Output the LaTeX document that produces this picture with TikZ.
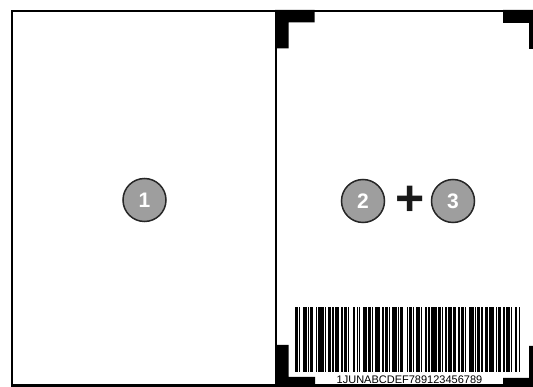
\documentclass[tikz,border=0pt]{standalone}
\usepackage{fontspec}
\setmainfont{Liberation Sans}
\begin{document}
\begin{tikzpicture}[x=1pt,y=-1pt,
  frameline/.style={line width=2.5pt,draw=black},
  cropmark/.style={fill=black},
  num/.style={circle,draw=black!85,line width=1.5pt,fill=black!38,minimum size=43pt,inner sep=0pt,
    text=white,font=\bfseries\fontsize{21}{21}\selectfont},
  plussign/.style={inner sep=0pt,font=\bfseries\fontsize{50}{50}\selectfont,text=black!90},
  codetext/.style={inner sep=0pt,anchor=base,font=\fontsize{11}{11}\selectfont}]
\useasboundingbox (0,0) rectangle (533,387);
\fill[white] (0,0) rectangle (533,387);
\begin{scope}
\clip (0,0) rectangle (533,387);
% frame
\draw[frameline] (12,11) rectangle (541,385.5);
\draw[frameline] (276,11) -- (276,385.5);
% crop marks
\fill[cropmark] (275,10) -- (314.5,10) -- (314.5,22.5) -- (288.5,22.5) -- (288.5,48.5) -- (275,48.5) -- cycle;
\fill[cropmark] (545,10) -- (503,10) -- (503,23) -- (529,23) -- (529,49) -- (545,49) -- cycle;
\fill[cropmark] (275,345) -- (288.5,345) -- (288.5,377) -- (315,377) -- (315,392) -- (275,392) -- cycle;
\fill[cropmark] (545,346) -- (529,346) -- (529,378) -- (503,378) -- (503,392) -- (545,392) -- cycle;
% barcode
\def\bx{295}
\foreach \b/\s in {2/1,1/2,3/1,1/1,2/2,1/1,4/1,1/2,2/1,1/1,3/2,1/1,2/1,1/3,2/1,1/1,1/2,3/1,2/1,1/1,4/2,1/1,2/1,1/2,3/1,1/1,2/3,1/1,2/1,1/1,3/1,1/2,2/1,1/1,4/1,2/1,1/2,1/1,3/1,2/2,1/1,2/1,1/3,3/1,1/1,2/1,1/2,2/1,4/1,1/1,2/2,1/1,3/1,1/2,2/1,1/1} {
  \pgfmathsetmacro\bw{\b*1.4}
  \fill[black] (\bx,307) rectangle ++(\bw,65);
  \pgfmathsetmacro\nx{\bx+\b*1.4+\s*1.13}
  \xdef\bx{\nx}
}
\end{scope}
\node[codetext] (code) at (409.5,383.5) {1JUNABCDEF789123456789};
% numbered circles
\node[num] (c1) at (144.5,200) {1};
\node[num] (c2) at (363,201) {2};
\node[num] (c3) at (453,201) {3};
\node[plussign] (plus) at (410.5,200.5) {+};
\end{tikzpicture}
\end{document}
